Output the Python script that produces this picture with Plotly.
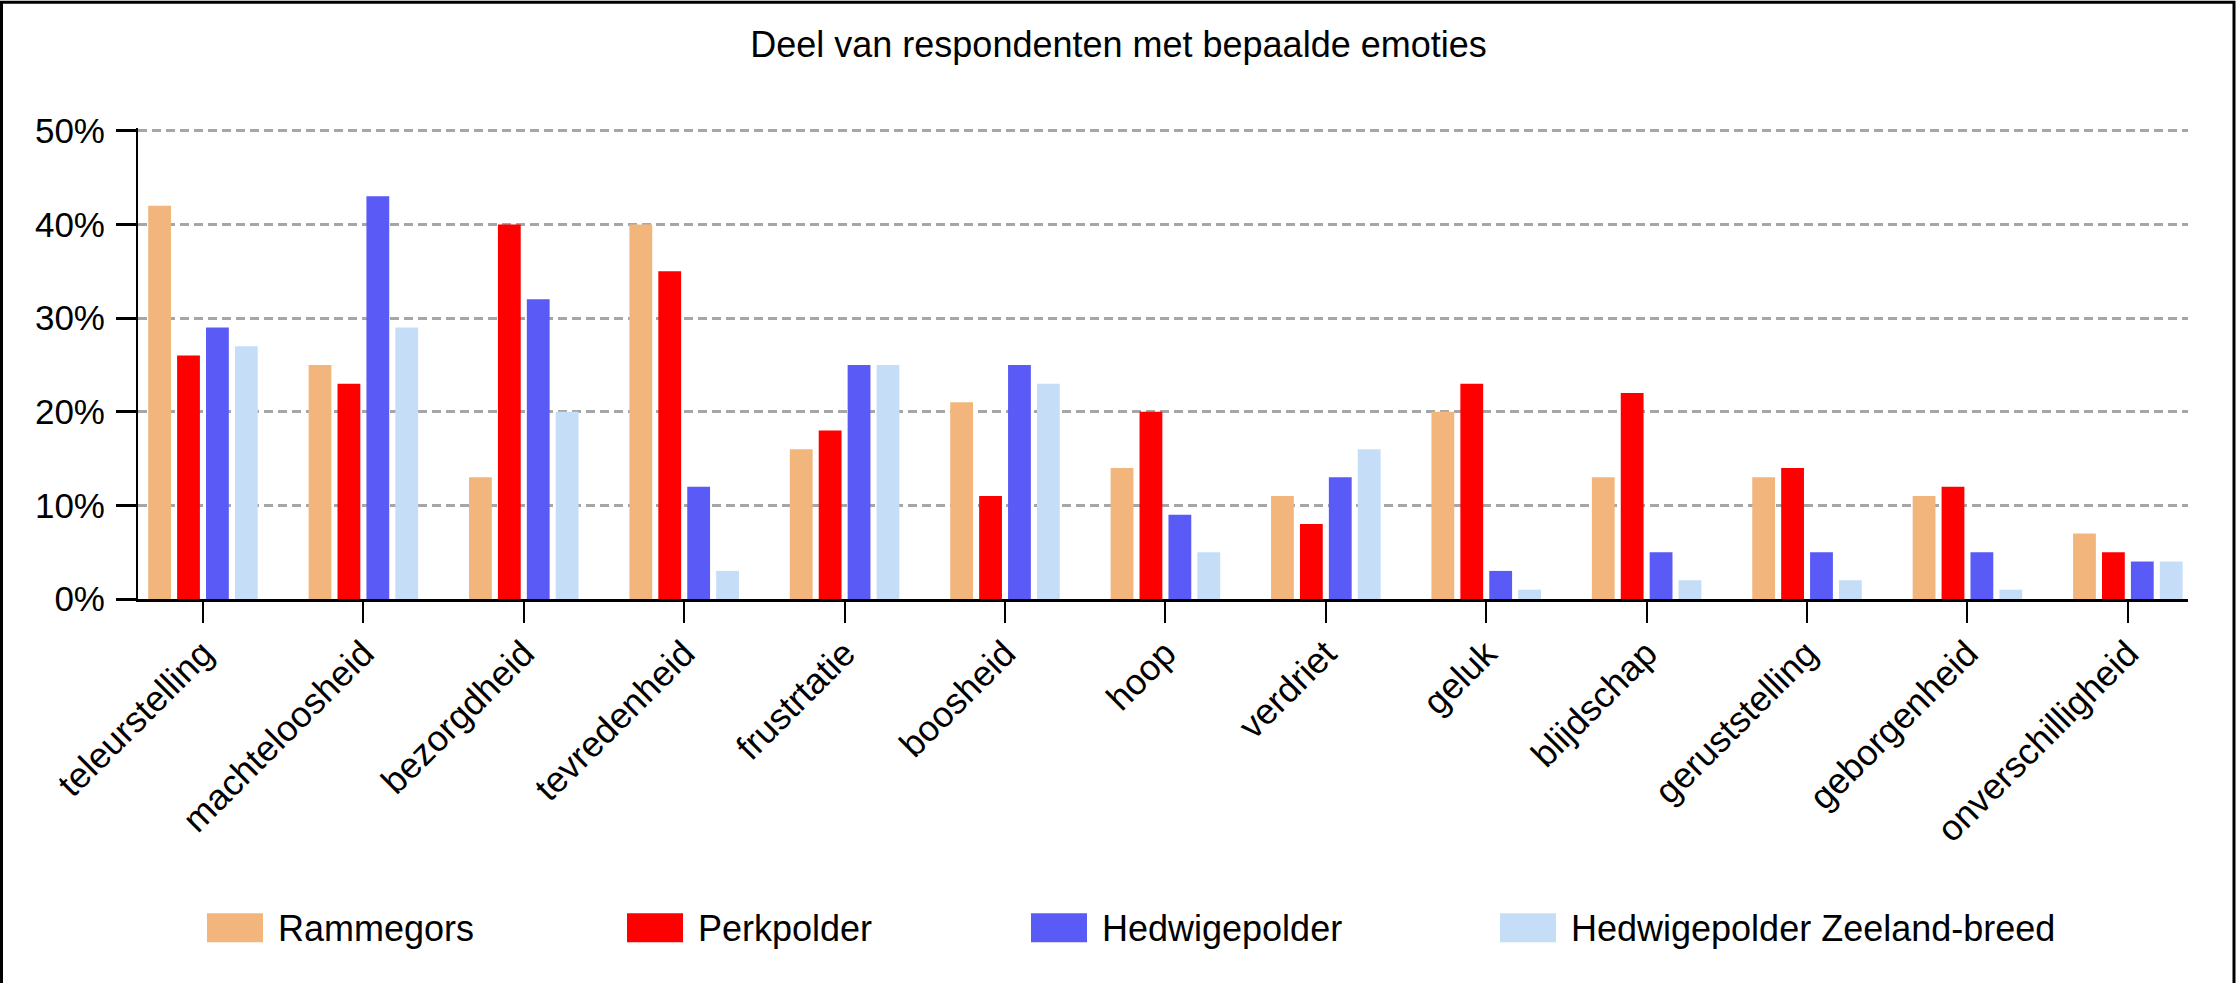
import plotly.graph_objects as go

# data (percent of respondents)
emoties = ['teleurstelling', 'machteloosheid', 'bezorgdheid', 'tevredenheid', 'frustrtatie',
           'boosheid', 'hoop', 'verdriet', 'geluk', 'blijdschap', 'geruststelling',
           'geborgenheid', 'onverschilligheid']

rammegors = [42, 25, 13, 40, 16, 21, 14, 11, 20, 13, 13, 11, 7]
perkpolder = [26, 23, 40, 35, 18, 11, 20, 8, 23, 22, 14, 12, 5]
hedwigepolder = [29, 43, 32, 12, 25, 25, 9, 13, 3, 5, 5, 5, 4]
hedwigepolder_zeeland = [27, 29, 20, 3, 25, 23, 5, 16, 1, 2, 2, 1, 4]

series_names = ['Rammegors', 'Perkpolder', 'Hedwigepolder', 'Hedwigepolder Zeeland-breed']
series_values = [rammegors, perkpolder, hedwigepolder, hedwigepolder_zeeland]
series_colors = ['#F2B67C', '#FF0000', '#5A5AF6', '#C6DDF7']

y_ticks = [0, 10, 20, 30, 40, 50]
y_ticktext = ['0%', '10%', '20%', '30%', '40%', '50%']

# figure geometry (pixels)
W_FIG, H_FIG = 2237, 983
Y_TOP = 50.3  # a little headroom so the 50% grid line is drawn
M_L, M_R, M_B = 138, 49, 384
PH = (H_FIG - M_B - 131) * Y_TOP / 50
M_T = H_FIG - M_B - PH
PW = W_FIG - M_L - M_R


def px_x(px):
    return (px - M_L) / PW


def px_y(py):
    return (H_FIG - M_B - py) / PH


FONT = 'Liberation Sans, Arial, sans-serif'

fig = go.Figure()
for name, vals, col in zip(series_names, series_values, series_colors):
    fig.add_trace(go.Bar(x=emoties, y=vals, name=name, marker_color=col,
                         marker_line_width=0, showlegend=False,
                         hovertemplate=name + '<br>%{x}: %{y}%<extra></extra>'))

fig.update_layout(
    width=W_FIG, height=H_FIG,
    margin=dict(l=M_L, r=M_R, t=M_T, b=M_B),
    paper_bgcolor='white', plot_bgcolor='white',
    barmode='group', bargap=0.279, bargroupgap=0.211,
    font=dict(family=FONT, size=35, color='black'),
    title=dict(text='Deel van respondenten met bepaalde emoties', x=0.5, xanchor='center',
               y=1 - 44 / H_FIG, yanchor='middle', font=dict(size=36, color='black')),
)

fig.update_xaxes(range=[-0.405, 12.375], showline=True, linecolor='black', linewidth=3,
                 ticks='outside', ticklen=21, tickwidth=2, tickcolor='black',
                 tickangle=-45, tickfont=dict(size=36), ticklabelstandoff=-5,
                 showgrid=False, zeroline=False)
fig.update_yaxes(range=[0, Y_TOP], tickvals=y_ticks, ticktext=y_ticktext, showline=True,
                 linecolor='black', linewidth=2, ticks='outside', ticklen=20, tickwidth=3,
                 tickcolor='black', tickfont=dict(size=35), ticklabelstandoff=4,
                 showgrid=True, gridcolor='#A6A6A6', gridwidth=2.5, griddash='9px,5px',
                 zeroline=False)

# legend drawn as wide swatches with text, like the reference
legend_left = [207, 627, 1031, 1500]
for name, col, lx in zip(series_names, series_colors, legend_left):
    fig.add_shape(type='rect', xref='paper', yref='paper',
                  x0=px_x(lx), x1=px_x(lx + 56), y0=px_y(942), y1=px_y(913),
                  fillcolor=col, line_width=0)
    fig.add_annotation(text=name, xref='paper', yref='paper', x=px_x(lx + 69), y=px_y(928),
                       xanchor='left', yanchor='middle', showarrow=False,
                       font=dict(size=36, color='black'))

# outer frame
fig.add_shape(type='rect', xref='paper', yref='paper',
              x0=px_x(1.5), x1=px_x(2234), y0=px_y(1000), y1=px_y(2.5),
              line=dict(color='black', width=3), fillcolor='rgba(0,0,0,0)', layer='above')

fig.write_html('out.html', config={'displayModeBar': False},
               post_script="document.body.style.margin='0';document.body.style.overflow='hidden';")
